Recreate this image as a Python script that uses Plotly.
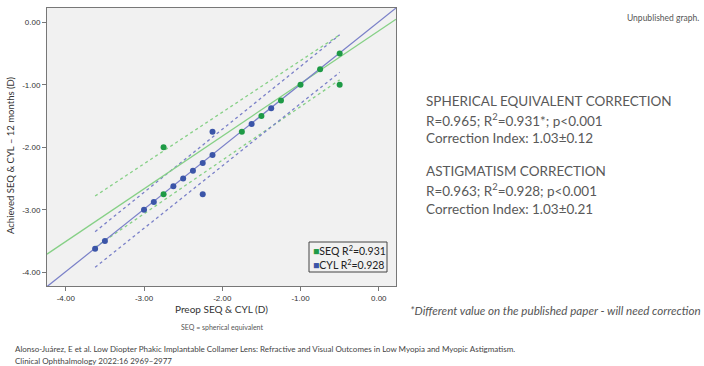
import plotly.graph_objects as go

# ---- data ----
seq_pre = [-0.5, -0.75, -1.0, -1.25, -1.5, -1.75, -0.5, -2.75, -2.75]
seq_ach = [-0.5, -0.75, -1.0, -1.25, -1.5, -1.75, -1.0, -2.0, -2.75]
cyl_pre = [-3.625, -3.5, -3.0, -2.875, -2.625, -2.5, -2.375, -2.25, -2.125, -2.125, -2.25, -1.625, -1.375]
cyl_ach = [-3.625, -3.5, -3.0, -2.875, -2.625, -2.5, -2.375, -2.25, -2.125, -1.75, -2.75, -1.625, -1.375]

fit_x = [-4.24, 0.22]
seq_fit_y = [-3.71, 0.05]
cyl_fit_y = [-4.23, 0.23]

pi_x = [-3.625, -0.5]
seq_upper = [-2.78, -0.20]
seq_lower = [-3.60, -0.92]
cyl_upper = [-3.35, -0.20]
cyl_lower = [-3.92, -0.80]

tick_vals = [-4, -3, -2, -1, 0]
tick_text = ["-4.00", "-3.00", "-2.00", "-1.00", "0.00"]

legend_labels = ["SEQ R<sup>2</sup>=0.931", "CYL R<sup>2</sup>=0.928"]

GREEN = "#1e9a46"
BLUE = "#3b55a8"
GREEN_L = "#86d086"
BLUE_L = "#7a80c8"

fig = go.Figure()

# prediction interval lines
for y in (seq_upper, seq_lower):
    fig.add_trace(go.Scatter(x=pi_x, y=y, mode="lines", showlegend=False,
                             line=dict(color=GREEN_L, width=1.3, dash="3px,3px")))
for y in (cyl_upper, cyl_lower):
    fig.add_trace(go.Scatter(x=pi_x, y=y, mode="lines", showlegend=False,
                             line=dict(color=BLUE_L, width=1.3, dash="3px,3px")))

# fit lines
fig.add_trace(go.Scatter(x=fit_x, y=seq_fit_y, mode="lines", showlegend=False,
                         line=dict(color=GREEN_L, width=1.3)))
fig.add_trace(go.Scatter(x=fit_x, y=cyl_fit_y, mode="lines", showlegend=False,
                         line=dict(color=BLUE_L, width=1.2)))

# points
fig.add_trace(go.Scatter(x=cyl_pre, y=cyl_ach, mode="markers", showlegend=False,
                         marker=dict(color=BLUE, size=6)))
fig.add_trace(go.Scatter(x=seq_pre, y=seq_ach, mode="markers", showlegend=False,
                         marker=dict(color=GREEN, size=6)))

L, R, T, B = 47, 396, 8, 286
W, H = 704, 366


def px(xp):
    return (xp - L) / (R - L)


def py(yp):
    return (B - yp) / (B - T)


axis_common = dict(showgrid=False, zeroline=False, ticks="outside", ticklen=4,
                   tickcolor="#777", tickwidth=1, showline=True, linecolor="#777",
                   linewidth=1, mirror=True,
                   tickfont=dict(family="Liberation Sans", size=8, color="#333"))

fig.update_layout(
    width=W, height=H,
    margin=dict(l=L, r=W - R, t=T, b=H - B),
    paper_bgcolor="white", plot_bgcolor="#f1f1f1",
    font=dict(family="Lato", color="#333"),
    showlegend=False,
    xaxis=dict(range=[-4.24, 0.22], tickvals=tick_vals, ticktext=tick_text, **axis_common),
    yaxis=dict(range=[-4.22, 0.23], tickvals=tick_vals, ticktext=tick_text, **axis_common),
)

# legend box
fig.add_shape(type="rect", xref="paper", yref="paper", x0=px(309), x1=px(387),
              y0=py(272), y1=py(242), line=dict(color="#444", width=1), fillcolor="#f1f1f1")

ann = [
    dict(text=f'<span style="color:{GREEN}">■</span>{legend_labels[0]}', x=px(311), y=py(250),
         xanchor="left", font=dict(size=10.5, color="#222")),
    dict(text=f'<span style="color:{BLUE}">■</span>{legend_labels[1]}', x=px(311), y=py(264),
         xanchor="left", font=dict(size=10.5, color="#222")),
    dict(text="Achieved SEQ &amp; CYL – 12 months (D)", x=px(10), y=py(155), textangle=-90,
         xanchor="center", font=dict(size=9.5, color="#333")),
    dict(text="Preop SEQ &amp; CYL (D)", x=px(221), y=py(309), font=dict(size=10, color="#333")),
    dict(text="SEQ = spherical equivalent", x=px(222), y=py(327), font=dict(size=7, color="#555")),
    dict(text="Unpublished graph.", x=px(701), y=py(18), xanchor="right", font=dict(size=8.5, color="#555")),
    dict(text="SPHERICAL EQUIVALENT CORRECTION", x=px(424), y=py(101), xanchor="left",
         font=dict(size=13.5, color="#595959")),
    dict(text="R=0.965; R<sup>2</sup>=0.931*; p<0.001", x=px(424), y=py(120), xanchor="left",
         font=dict(size=13.5, color="#595959")),
    dict(text="Correction Index: 1.03±0.12", x=px(424), y=py(138), xanchor="left",
         font=dict(size=13.5, color="#595959")),
    dict(text="ASTIGMATISM CORRECTION", x=px(424), y=py(171), xanchor="left",
         font=dict(size=13.5, color="#595959")),
    dict(text="R=0.963; R<sup>2</sup>=0.928; p<0.001", x=px(424), y=py(190), xanchor="left",
         font=dict(size=13.5, color="#595959")),
    dict(text="Correction Index: 1.03±0.21", x=px(424), y=py(209), xanchor="left",
         font=dict(size=13.5, color="#595959")),
    dict(text="<i>*Different value on the published paper - will need correction</i>", x=px(703), y=py(311),
         xanchor="right", font=dict(size=11.6, color="#555")),
    dict(text="Alonso-Juárez, E et al. Low Diopter Phakic Implantable Collamer Lens: Refractive and Visual Outcomes in Low Myopia and Myopic Astigmatism.",
         x=px(13), y=py(349), xanchor="left", font=dict(size=8, color="#444")),
    dict(text="Clinical Ophthalmology 2022:16 2969–2977", x=px(13), y=py(361), xanchor="left",
         font=dict(size=8, color="#444")),
]
for a in ann:
    a.update(xref="paper", yref="paper", showarrow=False, yanchor="middle")
    fig.add_annotation(**a)

fig.write_html("out.html", config={"displayModeBar": False},
               post_script="document.body.style.margin='0';document.body.style.overflow='hidden';")
